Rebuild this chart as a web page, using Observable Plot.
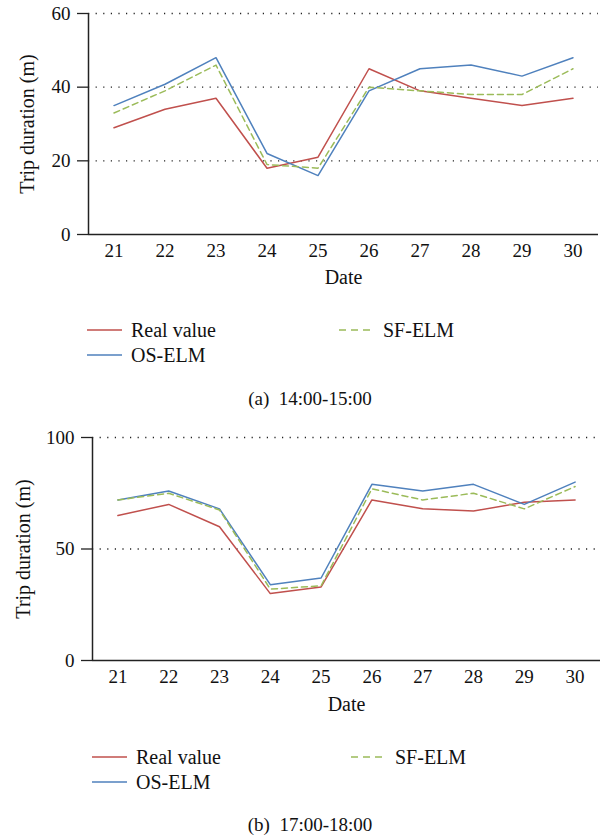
<!DOCTYPE html>
<html>
<head>
<meta charset="utf-8">
<script src="https://cdn.jsdelivr.net/npm/d3@7"></script>
<script src="https://cdn.jsdelivr.net/npm/@observablehq/plot@0.6"></script>
<style>
  body { margin: 0; background: #fff; }
  #wrap { position: relative; width: 613px; height: 840px; font-family: "Liberation Serif", "DejaVu Serif", serif; color: #111; overflow: hidden; }
  .abs { position: absolute; }
  .leg { position: absolute; font-size: 20px; line-height: 20px; white-space: nowrap; }
  .cap { position: absolute; font-size: 19px; white-space: pre; transform: translate(-50%, -50%); }
</style>
</head>
<body>
<div id="wrap"></div>
<script>
// ---- data ----
const dates = [21, 22, 23, 24, 25, 26, 27, 28, 29, 30];
const seriesNames = ["Real value", "OS-ELM", "SF-ELM"];
const seriesColors = ["#c0504d", "#4f81bd", "#9bbb59"];

// (a) 14:00-15:00
const realA = [29, 34, 37, 18, 21, 45, 39, 37, 35, 37];
const osA   = [35, 40.8, 48, 22, 16, 39, 45, 46, 43, 48];
const sfA   = [33, 39, 46, 19, 18, 40, 39, 38, 38, 45];
const yTicksA = [0, 20, 40, 60];

// (b) 17:00-18:00
const realB = [65, 70, 60, 30, 33, 72, 68, 67, 71, 72];
const osB   = [72, 76, 68, 34, 37, 79, 76, 79, 70, 80];
const sfB   = [72, 75, 67.5, 32, 33.5, 77, 72, 75, 68, 78];
const yTicksB = [0, 50, 100];

const captions = ["(a)  14:00-15:00", "(b)  17:00-18:00"];
const xLabel = "Date";
const yLabel = "Trip duration (m)";

const wrap = document.getElementById("wrap");
const FONT = '"Liberation Serif", "DejaVu Serif", serif';

function toRows(vals, name) { return dates.map((d, i) => ({date: d, value: vals[i], series: name})); }

function chart(cfg) {
  const [real, os, sf] = cfg.series;
  const yMax = cfg.yTicks[cfg.yTicks.length - 1];
  const svg = Plot.plot({
    width: 613,
    height: cfg.height,
    marginTop: cfg.mt,
    marginBottom: cfg.mb,
    marginLeft: cfg.ml,
    marginRight: cfg.mr,
    style: {fontFamily: FONT, fontSize: "19px", color: "#111", background: "transparent", overflow: "visible"},
    x: {type: "linear", domain: [20.5, 30.5], label: null},
    y: {domain: [0, yMax], label: null},
    marks: [
      Plot.ruleY(cfg.yTicks.filter(t => t > 0), {stroke: "#222", strokeWidth: 1.3, strokeDasharray: "1.2,6.4"}),
      Plot.axisY({ticks: cfg.yTicks, tickSize: 11, tickPadding: 7, tickFormat: d3.format("d"), label: null, stroke: "#222", strokeWidth: 1.3}),
      Plot.axisX({ticks: dates, tickSize: 0, tickPadding: 9, tickFormat: d3.format("d"), label: null}),
      Plot.ruleX([20.5], {stroke: "#222", strokeWidth: 1.5}),
      Plot.ruleY([0], {stroke: "#222", strokeWidth: 1.5}),
      Plot.line(toRows(real, seriesNames[0]), {x: "date", y: "value", stroke: seriesColors[0], strokeWidth: 1.5}),
      Plot.line(toRows(os, seriesNames[1]), {x: "date", y: "value", stroke: seriesColors[1], strokeWidth: 1.5}),
      Plot.line(toRows(sf, seriesNames[2]), {x: "date", y: "value", stroke: seriesColors[2], strokeWidth: 1.5, strokeDasharray: "6,4"}),
      Plot.text([xLabel], {frameAnchor: "bottom", dy: cfg.dateDy, fontSize: 20, fill: "#111", textAnchor: "middle"}),
      Plot.text([yLabel], {frameAnchor: "left", dx: cfg.yLabDx, rotate: -90, fontSize: 20, fill: "#111", textAnchor: "middle", lineAnchor: "middle"})
    ]
  });
  svg.classList.add("abs");
  svg.style.left = "0px";
  svg.style.top = cfg.top + "px";
  wrap.appendChild(svg);

  // legend
  const items = [
    {i: 0, x: cfg.legX[0], y: cfg.legY[0]},
    {i: 2, x: cfg.legX[1], y: cfg.legY[0]},
    {i: 1, x: cfg.legX[0], y: cfg.legY[1]}
  ];
  for (const it of items) {
    const d = document.createElement("div");
    d.className = "leg";
    d.style.left = it.x + "px";
    d.style.top = (it.y - 10) + "px";
    const dash = it.i === 2 ? ' stroke-dasharray="7,5"' : "";
    d.innerHTML = `<svg width="35" height="20" style="vertical-align:top"><line x1="0" y1="10" x2="35" y2="10" stroke="${seriesColors[it.i]}" stroke-width="1.6"${dash}/></svg><span style="position:relative;left:9px;top:0px">${seriesNames[it.i]}</span>`;
    wrap.appendChild(d);
  }
  const c = document.createElement("div");
  c.className = "cap";
  c.style.left = cfg.capX + "px";
  c.style.top = cfg.capY + "px";
  c.textContent = cfg.caption;
  wrap.appendChild(c);
}

chart({
  series: [realA, osA, sfA], yTicks: yTicksA,
  top: 0, height: 300, mt: 13, mb: 66, ml: 88, mr: 15,
  dateDy: 49, yLabDx: -61,
  legX: [87, 339], legY: [330, 355], capX: 310, capY: 399, caption: captions[0]
});
chart({
  series: [realB, osB, sfB], yTicks: yTicksB,
  top: 420, height: 300, mt: 17, mb: 60, ml: 92, mr: 13,
  dateDy: 50, yLabDx: -69,
  legX: [92, 351], legY: [757, 782], capX: 310, capY: 825, caption: captions[1]
});
</script>
</body>
</html>
